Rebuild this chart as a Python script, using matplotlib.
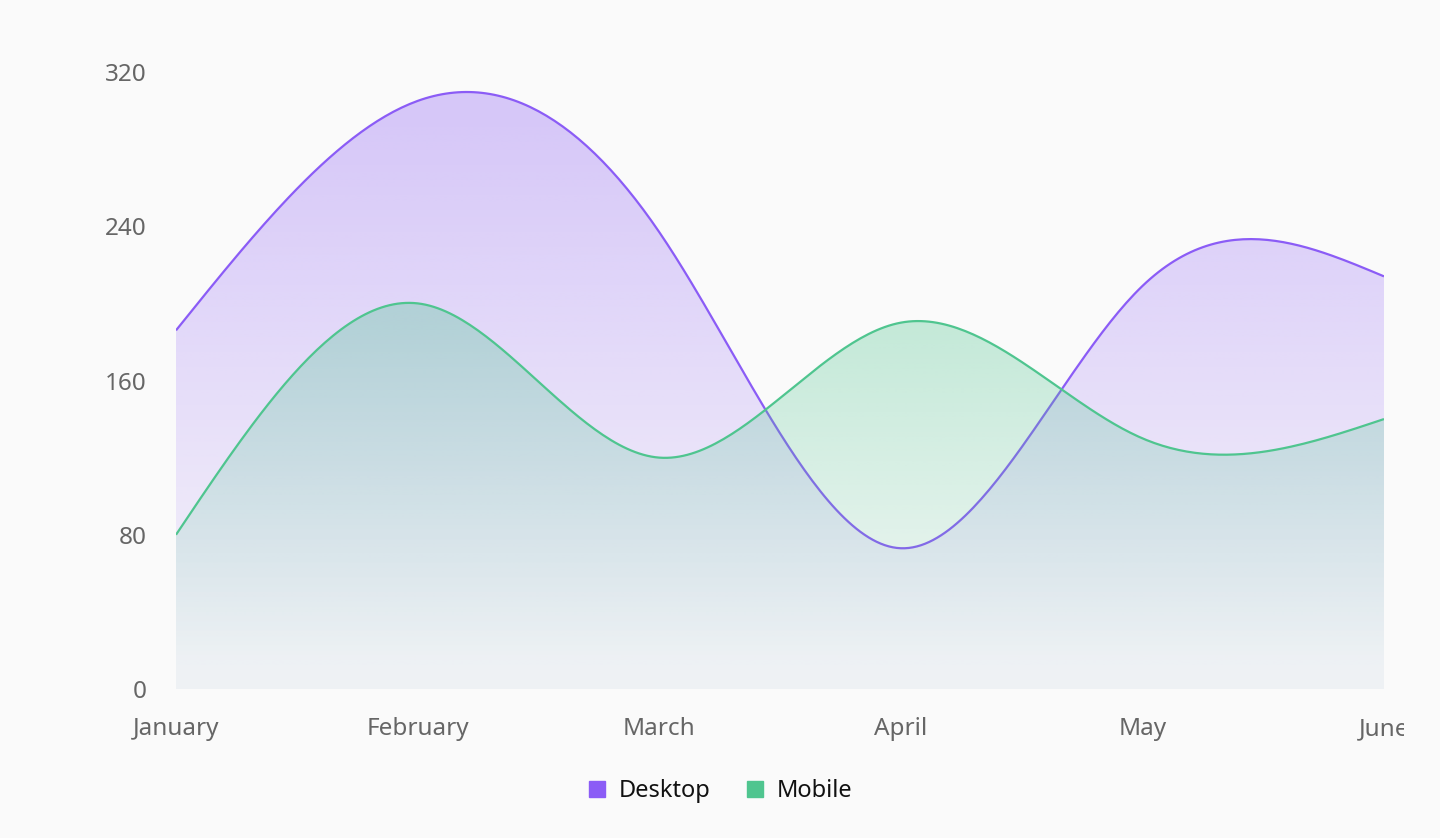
import numpy as np
import matplotlib
matplotlib.use("Agg")
import matplotlib.pyplot as plt
from matplotlib.patches import Polygon, Rectangle
from matplotlib.lines import Line2D

months = ["January", "February", "March", "April", "May", "June"]
desktop = [186, 305, 237, 73, 209, 214]
mobile = [80, 200, 120, 190, 130, 140]
yticks = [0, 80, 160, 240, 320]

DESK = "#8b5cf6"
MOB = "#4fc58f"
BG = "#fafafa"

plt.rcParams["font.family"] = ["Noto Sans", "DejaVu Sans"]


def natural_spline(y, n=60):
    """d3 curveNatural style natural cubic spline over uniform index."""
    y = np.asarray(y, float)
    m = len(y) - 1
    a = np.zeros(m); b = np.zeros(m); r = np.zeros(m)
    a[0] = 0; b[0] = 2; r[0] = y[0] + 2 * y[1]
    for i in range(1, m - 1):
        a[i] = 1; b[i] = 4; r[i] = 4 * y[i] + 2 * y[i + 1]
    a[m - 1] = 2; b[m - 1] = 7; r[m - 1] = 8 * y[m - 1] + y[m]
    for i in range(1, m):
        w = a[i] / b[i - 1]
        b[i] -= w
        r[i] -= w * r[i - 1]
    A = np.zeros(m)
    A[m - 1] = r[m - 1] / b[m - 1]
    for i in range(m - 2, -1, -1):
        A[i] = (r[i] - A[i + 1]) / b[i]
    B = np.zeros(m)
    B[m - 1] = (y[m] + A[m - 1]) / 2
    for i in range(m - 1):
        B[i] = 2 * y[i + 1] - A[i + 1]
    xs, ys = [], []
    t = np.linspace(0, 1, n, endpoint=False)
    for i in range(m):
        p0, p1, p2, p3 = y[i], A[i], B[i], y[i + 1]
        seg = (1 - t) ** 3 * p0 + 3 * (1 - t) ** 2 * t * p1 + 3 * (1 - t) * t ** 2 * p2 + t ** 3 * p3
        xs.append(i + t)
        ys.append(seg)
    xs.append([m]); ys.append([y[m]])
    return np.concatenate(xs), np.concatenate(ys)


fig = plt.figure(figsize=(14.4, 8.38), dpi=100, facecolor=BG)
ax = fig.add_axes([176 / 1440, 1 - 689 / 838, (1384 - 176) / 1440, (689 - 72) / 838])
ax.set_facecolor(BG)


def draw_area(vals, color, z):
    xs, ys = natural_spline(vals)
    top = ys.max()
    rgb = np.array(matplotlib.colors.to_rgb(color))
    h = 256
    frac = np.linspace(0, 1, h)
    alpha = np.interp(frac, [0.05, 0.95], [0.8, 0.1]) * 0.4
    img = np.zeros((h, 2, 4))
    img[..., :3] = rgb
    img[..., 3] = alpha[:, None]
    im = ax.imshow(img, extent=[0, len(vals) - 1, 0, top], aspect="auto",
                   origin="upper", zorder=z, interpolation="bilinear")
    verts = np.vstack([np.column_stack([xs, ys]), [[xs[-1], 0], [xs[0], 0]]])
    poly = Polygon(verts, closed=True, transform=ax.transData, facecolor="none", edgecolor="none")
    ax.add_patch(poly)
    im.set_clip_path(poly)
    ax.plot(xs, ys, color=color, lw=1.6, zorder=z + 0.5, solid_capstyle="butt")


draw_area(desktop, DESK, 2)
draw_area(mobile, MOB, 3)
ax.set_xlim(0, len(months) - 1)
ax.set_ylim(0, 320)

for s in ax.spines.values():
    s.set_visible(False)
ax.set_xticks(range(len(months)))
ax.set_xticklabels(months)
ax.set_yticks(yticks)
ax.set_yticklabels([str(v) for v in yticks])
ax.tick_params(axis="both", length=0, labelsize=17.5, colors="#666666")
ax.tick_params(axis="x", pad=20)
ax.tick_params(axis="y", pad=21)

# the last month label is cut off at the right edge in the original
fig.patches.append(Rectangle((1404 / 1440, 1 - 752 / 838), 1, 52 / 838,
                             transform=fig.transFigure, facecolor=BG, edgecolor="none",
                             zorder=10))

handles = [Line2D([], [], marker="s", color="none", markerfacecolor=DESK, markeredgecolor=DESK,
                  markersize=11, label="Desktop"),
           Line2D([], [], marker="s", color="none", markerfacecolor=MOB, markeredgecolor=MOB,
                  markersize=11, label="Mobile")]
fig.legend(handles=handles, loc="center", bbox_to_anchor=(0.5, 1 - 791 / 838), ncol=2,
           frameon=False, fontsize=17, handlelength=0.8, handletextpad=0.5, columnspacing=1.5,
           labelcolor="#111111")

fig.savefig("out.png", dpi=100, facecolor=BG)
